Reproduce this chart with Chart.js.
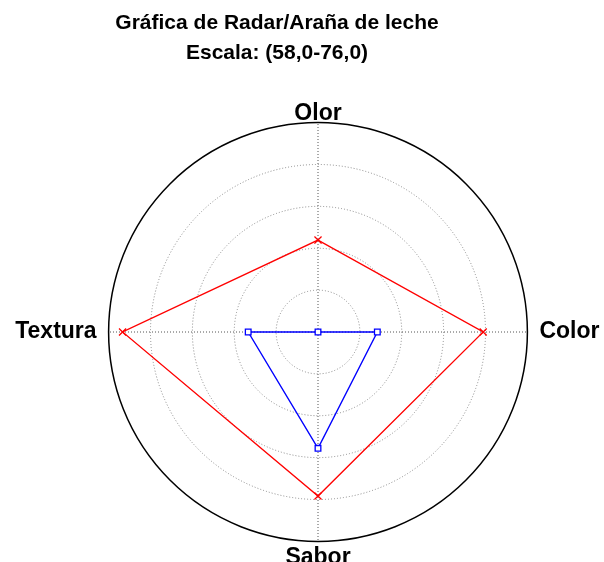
<!DOCTYPE html>
<html>
<head>
<meta charset="utf-8">
<script src="https://cdn.jsdelivr.net/npm/chart.js@4"></script>
<style>
  html, body { margin: 0; background: #fff; overflow: hidden; }
  /* el lienzo es algo mayor que la ventana para que el radar quede tan grande como en el original */
  #wrap { width: 616px; height: 576px; }
</style>
</head>
<body>
<div id="wrap"><canvas id="radar"></canvas></div>
<script>
// ejes y valores de la gráfica
var ejes = ["Olor", "Color", "Sabor", "Textura"];
var serie_roja = [65.9, 72.2, 72.1, 74.8];
var serie_azul = [58.0, 63.1, 68.0, 64.0];
var escala_min = 58.0;
var escala_max = 76.0;
var escala_paso = 3.6;

// separación de cada etiqueta respecto al círculo exterior
var sep_etiquetas = [-5, 12, 2, 12];

var radar_data = {
  labels: ejes,
  datasets: [
    {
      label: "Serie 1",
      data: serie_roja,
      fill: false,
      borderColor: "rgb(255, 0, 0)",
      borderWidth: 1.3,
      pointStyle: "crossRot",
      pointRadius: 5,
      pointBorderColor: "rgb(255, 0, 0)",
      pointBorderWidth: 1.3,
    },
    {
      label: "Serie 2",
      data: serie_azul,
      fill: false,
      borderColor: "rgb(0, 0, 255)",
      borderWidth: 1.4,
      pointStyle: "rect",
      pointRadius: 4,
      pointBackgroundColor: "#fff",
      pointBorderColor: "rgb(0, 0, 255)",
      pointBorderWidth: 1.3,
    },
  ],
};

// el título del original está algo a la izquierda del centro
var moverTitulo = {
  id: "moverTitulo",
  afterLayout: function (chart) {
    if (chart.titleBlock) {
      chart.titleBlock.left -= 31;
      chart.titleBlock.right -= 31;
    }
  },
};

var ctx = document.getElementById("radar").getContext("2d");
var myChart = new Chart(ctx, {
  type: "radar",
  data: radar_data,
  plugins: [moverTitulo],
  options: {
    responsive: true,
    maintainAspectRatio: false,
    animation: false,
    layout: { padding: { top: 8, bottom: 1, left: 3, right: 3 } },
    plugins: {
      legend: { display: false },
      tooltip: { enabled: false },
      title: {
        display: true,
        text: ["Gráfica de Radar/Araña de leche", "Escala: (58,0-76,0)"],
        color: "#000",
        font: { family: "Liberation Sans, Arial", size: 21, weight: "bold", lineHeight: 1.45 },
        padding: { top: 0, bottom: 29 },
      },
    },
    scales: {
      r: {
        min: escala_min,
        max: escala_max,
        ticks: { stepSize: escala_paso, display: false },
        grid: {
          circular: true,
          color: function (c) {
            return c.index === 5 ? "#000" : "#888";
          },
          lineWidth: function (c) {
            return c.index === 5 ? 1.5 : 1;
          },
        },
        border: {
          dash: function (c) {
            return c.index === 5 ? [] : [1, 2];
          },
        },
        angleLines: { color: "#555", borderDash: [1, 2], lineWidth: 1 },
        pointLabels: {
          color: "#000",
          padding: function (c) {
            return sep_etiquetas[c.index];
          },
          font: { family: "Liberation Sans, Arial", size: 23, weight: "bold" },
        },
      },
    },
  },
});
</script>
</body>
</html>
